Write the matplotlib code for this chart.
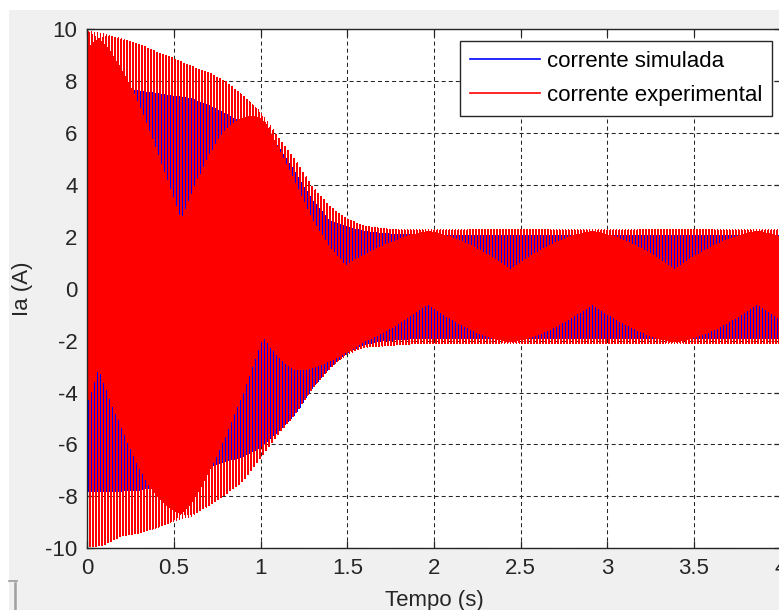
import numpy as np
import matplotlib
matplotlib.use("Agg")
import matplotlib.pyplot as plt
from matplotlib.lines import Line2D
from matplotlib.patches import Rectangle

plt.rcParams['font.family'] = ['Liberation Sans', 'DejaVu Sans']
plt.rcParams['path.simplify'] = False
plt.rcParams['lines.scale_dashes'] = False

# Envelope of the phase current: time knots (s) and peak values (A)
knot_t = [0.0, 0.1, 0.2, 0.3, 0.4, 0.5, 0.6, 0.7, 0.8, 0.9, 1.0, 1.1, 1.2,
          1.3, 1.4, 1.5, 1.6, 1.7, 1.8, 1.9, 2.0, 2.5, 3.0, 3.5, 4.0]
sim_upper = [8.0, 7.8, 7.7, 7.6, 7.5, 7.4, 7.3, 7.05, 6.7, 6.35, 6.15, 5.5, 4.5,
             3.4, 2.6, 2.35, 2.2, 2.1, 2.08, 2.05, 2.05, 2.05, 2.05, 2.05, 2.05]
sim_lower = [-7.8, -7.8, -7.78, -7.75, -7.6, -7.4, -7.1, -6.85, -6.65, -6.45, -6.1,
             -5.5, -4.85, -3.8, -3.0, -2.45, -2.15, -2.0, -1.95, -1.9, -1.9, -1.9,
             -1.9, -1.9, -1.9]
exp_upper = [9.9, 9.8, 9.6, 9.4, 9.1, 8.85, 8.55, 8.3, 7.95, 7.4, 6.8, 5.85, 4.95,
             3.9, 3.15, 2.65, 2.4, 2.3, 2.25, 2.25, 2.25, 2.25, 2.25, 2.25, 2.25]
exp_lower = [-9.95, -9.85, -9.5, -9.4, -9.2, -8.95, -8.75, -8.35, -7.9, -7.4, -6.5,
             -5.6, -4.8, -3.8, -3.05, -2.5, -2.25, -2.2, -2.15, -2.1, -2.1, -2.1,
             -2.1, -2.1, -2.1]

# Supply frequency (Hz), phase of each record (rad) and sampling rate (Hz)
f_line = 58.126
phase_exp = 5.19
phase_sim = 5.19 + np.pi
fs = 6000.0

x_ticks = [0, 0.5, 1, 1.5, 2, 2.5, 3, 3.5, 4]
x_ticklabels = ['0', '0.5', '1', '1.5', '2', '2.5', '3', '3.5', '4']
y_ticks = [-10, -8, -6, -4, -2, 0, 2, 4, 6, 8, 10]
y_ticklabels = ['-10', '-8', '-6', '-4', '-2', '0', '2', '4', '6', '8', '10']


def waveform(t, upper, lower, f, phase):
    up = np.interp(t, knot_t, upper)
    lo = np.interp(t, knot_t, lower)
    return 0.5 * (up + lo) + 0.5 * (up - lo) * np.sin(2 * np.pi * f * t + phase)


t = np.arange(0.0, 4.0 + 1.0 / fs, 1.0 / fs)
i_sim = waveform(t, sim_upper, sim_lower, f_line, phase_sim)
i_exp = waveform(t, exp_upper, exp_lower, f_line, phase_exp)

W, H = 779, 610
fig = plt.figure(figsize=(W / 100, H / 100), dpi=100, facecolor='white')
fig.patches.append(Rectangle((9 / W, 0), 1, 1 - 10 / H, transform=fig.transFigure,
                             facecolor='#f0f0f0', edgecolor='none', zorder=-10))
# small window-frame marks at the lower left
fig.add_artist(Line2D([9 / W, 17 / W], [1 - 580.7 / H, 1 - 580.7 / H],
                      transform=fig.transFigure, color='#9a9a9a', lw=1.2))
fig.add_artist(Line2D([14.5 / W, 14.5 / W], [1 - 583 / H, 0],
                      transform=fig.transFigure, color='#a0a0a0', lw=1.8))

ax = fig.add_axes([87.3 / W, 1 - 548.3 / H, 693.3 / W, 519.3 / H])
ax.set_facecolor('white')

ax.plot(t, i_sim, color='#0000ff', lw=0.57, antialiased=False,
        label='corrente simulada')
ax.plot(t, i_exp, color='#ff0000', lw=0.57, antialiased=False,
        label='corrente experimental')

ax.set_xlim(0, 4)
ax.set_ylim(-10, 10)
ax.set_xticks(x_ticks)
ax.set_xticklabels(x_ticklabels)
ax.set_yticks(y_ticks)
ax.set_yticklabels(y_ticklabels)
ax.tick_params(direction='in', length=5, width=0.9, top=True, right=True,
               labelsize=16, colors='#262626', pad=7)
ax.tick_params(axis='y', pad=7)
for s in ax.spines.values():
    s.set_color('#262626')
    s.set_linewidth(1.0)
    s.set_zorder(5)
ax.grid(True, color='#262626', linestyle=(0, (2.9, 2.2)), linewidth=0.75)
ax.set_axisbelow(True)

ax.set_xlabel('Tempo (s)', fontsize=16, color='#262626', labelpad=8)
ax.set_ylabel('Ia (A)', fontsize=16, color='#262626', labelpad=9)

leg = ax.legend(loc='upper right', bbox_to_anchor=(772 / W, 1 - 41 / H),
                bbox_transform=fig.transFigure, borderaxespad=0, fontsize=16,
                handlelength=3.15, handletextpad=0.32, labelspacing=0.57,
                borderpad=0.45, fancybox=False, framealpha=1, edgecolor='#262626')
leg.get_frame().set_linewidth(1.0)
leg.set_zorder(10)
for ln in leg.get_lines():
    ln.set_linewidth(1.2)
    ln.set_antialiased(True)

fig.savefig('out.png', dpi=100, facecolor=fig.get_facecolor())
